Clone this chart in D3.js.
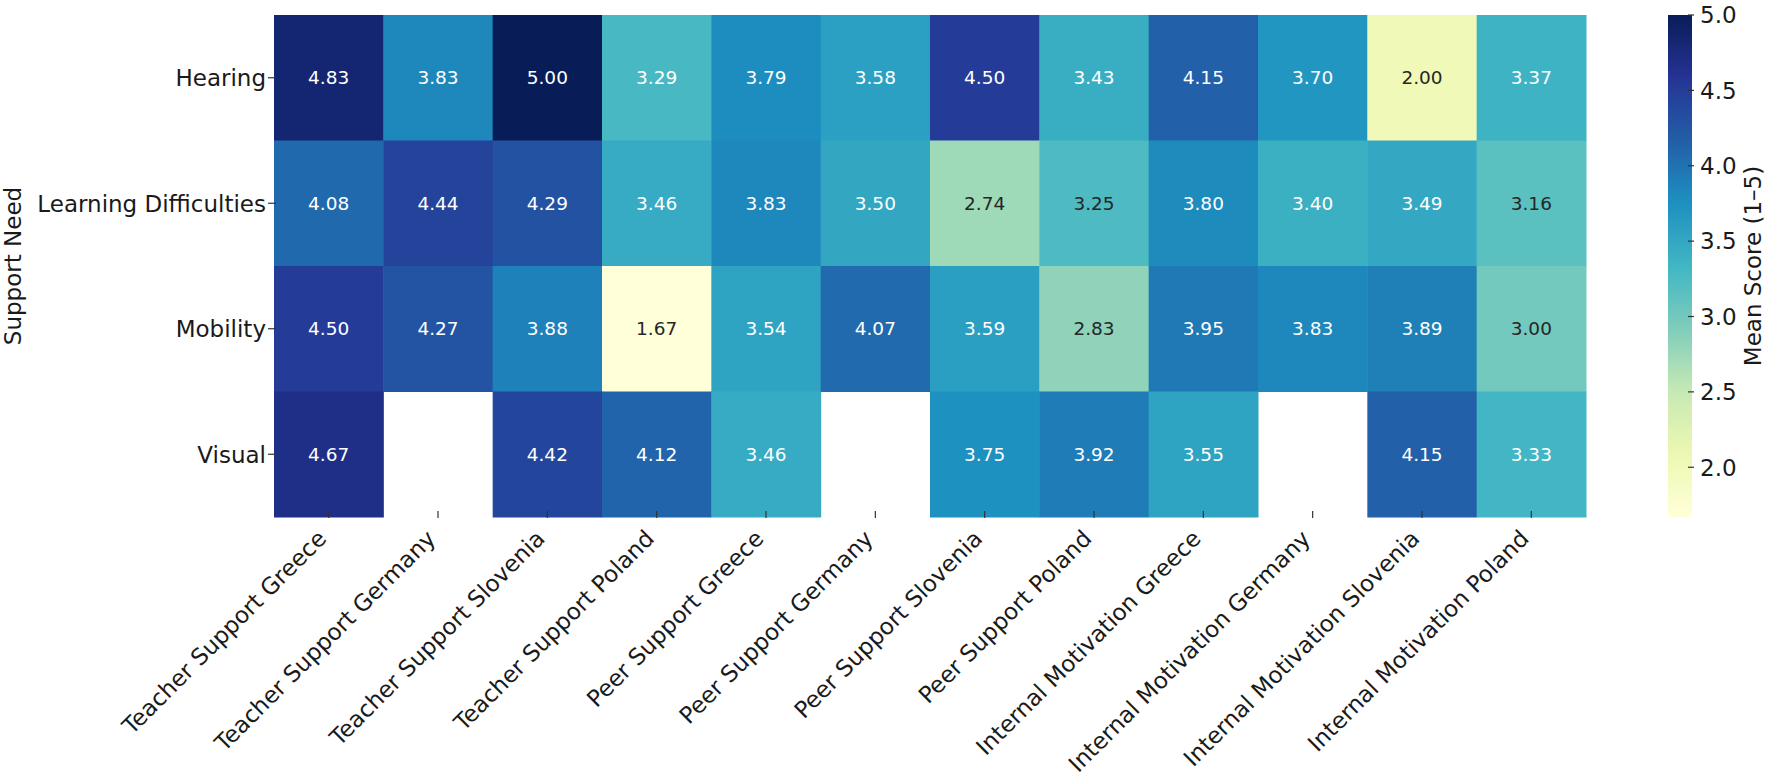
<!DOCTYPE html>
<html>
<head>
<meta charset="utf-8">
<script src="https://cdn.jsdelivr.net/npm/d3@7"></script>
<style>
  html, body { margin: 0; padding: 0; background: #fff; }
  svg text { font-family: "DejaVu Sans", sans-serif; }
</style>
</head>
<body>
<svg id="chart" width="1772" height="779"></svg>
<script>
var needs = ["Hearing", "Learning Difficulties", "Mobility", "Visual"];

var sources = [
  "Teacher Support Greece", "Teacher Support Germany", "Teacher Support Slovenia", "Teacher Support Poland",
  "Peer Support Greece", "Peer Support Germany", "Peer Support Slovenia", "Peer Support Poland",
  "Internal Motivation Greece", "Internal Motivation Germany", "Internal Motivation Slovenia", "Internal Motivation Poland"
];

// one list per support need, same order as sources (null = no data)
var hearing   = [4.83, 3.83, 5.00, 3.29, 3.79, 3.58, 4.50, 3.43, 4.15, 3.70, 2.00, 3.37];
var learning  = [4.08, 4.44, 4.29, 3.46, 3.83, 3.50, 2.74, 3.25, 3.80, 3.40, 3.49, 3.16];
var mobility  = [4.50, 4.27, 3.88, 1.67, 3.54, 4.07, 3.59, 2.83, 3.95, 3.83, 3.89, 3.00];
var visual    = [4.67, null, 4.42, 4.12, 3.46, null, 3.75, 3.92, 3.55, null, 4.15, 3.33];

var cbarTicks = [2.0, 2.5, 3.0, 3.5, 4.0, 4.5, 5.0];

var ylgnbu = ["#ffffd9", "#edf8b1", "#c7e9b4", "#7fcdbb", "#41b6c4", "#1d91c0", "#225ea8", "#253494", "#081d58"];

var rowsData = [hearing, learning, mobility, visual];

var plot = {left: 274, right: 1586, top: 15, bottom: 517};
var cbar = {left: 1668, right: 1692};

var svg = d3.select("#chart");

var cells = [];
for (var r = 0; r < needs.length; r++) {
  for (var c = 0; c < sources.length; c++) {
    if (rowsData[r][c] != null) {
      cells.push({need: needs[r], source: sources[c], value: rowsData[r][c]});
    }
  }
}

var vmin = d3.min(cells, function(d) { return d.value; });
var vmax = d3.max(cells, function(d) { return d.value; });

var color = d3.scaleLinear()
    .domain(ylgnbu.map(function(_, i) { return vmin + i * (vmax - vmin) / (ylgnbu.length - 1); }))
    .range(ylgnbu)
    .interpolate(d3.interpolateRgb);

var x = d3.scaleBand().domain(sources).range([plot.left, plot.right]);
var y = d3.scaleBand().domain(needs).range([plot.top, plot.bottom]);

// same rule seaborn uses to pick annotation colour
function luminance(col) {
  var rgb = d3.rgb(col);
  var ch = [rgb.r, rgb.g, rgb.b].map(function(v) {
    v = v / 255;
    return v <= 0.03928 ? v / 12.92 : Math.pow((v + 0.055) / 1.055, 2.4);
  });
  return 0.2126 * ch[0] + 0.7152 * ch[1] + 0.0722 * ch[2];
}

var g = svg.append("g");

g.selectAll("rect.cell")
    .data(cells)
  .enter().append("rect")
    .attr("class", "cell")
    .attr("x", function(d) { return x(d.source); })
    .attr("y", function(d) { return y(d.need); })
    .attr("width", x.bandwidth() + 0.5)
    .attr("height", y.bandwidth() + 0.5)
    .attr("fill", function(d) { return color(d.value); });

g.selectAll("text.annot")
    .data(cells)
  .enter().append("text")
    .attr("class", "annot")
    .attr("x", function(d) { return x(d.source) + x.bandwidth() / 2; })
    .attr("y", function(d) { return y(d.need) + y.bandwidth() / 2; })
    .attr("dy", "0.35em")
    .attr("text-anchor", "middle")
    .style("font-size", "18.5px")
    .attr("fill", function(d) { return luminance(color(d.value)) > 0.408 ? "#262626" : "#ffffff"; })
    .text(function(d) { return d.value.toFixed(2); });

// y axis
var yTicks = svg.append("g");
yTicks.selectAll("line")
    .data(needs)
  .enter().append("line")
    .attr("x1", plot.left - 6).attr("x2", plot.left + 2)
    .attr("y1", function(d) { return y(d) + y.bandwidth() / 2; })
    .attr("y2", function(d) { return y(d) + y.bandwidth() / 2; })
    .attr("stroke", "#333").attr("stroke-width", 1.2);
yTicks.selectAll("text")
    .data(needs)
  .enter().append("text")
    .attr("x", plot.left - 8)
    .attr("y", function(d) { return y(d) + y.bandwidth() / 2; })
    .attr("dy", "0.36em")
    .attr("text-anchor", "end")
    .style("font-size", "23px")
    .attr("fill", "#1a1a1a")
    .text(function(d) { return d; });

svg.append("text")
    .attr("transform", "translate(21," + (plot.top + plot.bottom) / 2 + ") rotate(-90)")
    .attr("text-anchor", "middle")
    .style("font-size", "23px")
    .attr("fill", "#1a1a1a")
    .text("Support Need");

// x axis
var xTicks = svg.append("g");
xTicks.selectAll("line")
    .data(sources)
  .enter().append("line")
    .attr("x1", function(d) { return x(d) + x.bandwidth() / 2; })
    .attr("x2", function(d) { return x(d) + x.bandwidth() / 2; })
    .attr("y1", plot.bottom - 6).attr("y2", plot.bottom + 1)
    .attr("stroke", "#333").attr("stroke-width", 1.2);
xTicks.selectAll("text")
    .data(sources)
  .enter().append("text")
    .attr("transform", function(d) {
      return "translate(" + (x(d) + x.bandwidth() / 2 - 1) + "," + (plot.bottom + 23) + ") rotate(-45)";
    })
    .attr("text-anchor", "end")
    .style("font-size", "23px")
    .attr("fill", "#1a1a1a")
    .text(function(d) { return d; });

// colorbar
var cy = d3.scaleLinear().domain([vmin, vmax]).range([plot.bottom, plot.top]);

var grad = svg.append("defs").append("linearGradient")
    .attr("id", "cbgrad")
    .attr("x1", 0).attr("y1", 1).attr("x2", 0).attr("y2", 0);
grad.selectAll("stop")
    .data(d3.range(0, 1.0001, 0.02))
  .enter().append("stop")
    .attr("offset", function(t) { return t; })
    .attr("stop-color", function(t) { return color(vmin + t * (vmax - vmin)); });

svg.append("rect")
    .attr("x", cbar.left).attr("y", plot.top)
    .attr("width", cbar.right - cbar.left)
    .attr("height", plot.bottom - plot.top)
    .attr("fill", "url(#cbgrad)");

var cbAxis = svg.append("g");
cbAxis.selectAll("line")
    .data(cbarTicks)
  .enter().append("line")
    .attr("x1", cbar.right - 4).attr("x2", cbar.right + 2)
    .attr("y1", function(d) { return cy(d); })
    .attr("y2", function(d) { return cy(d); })
    .attr("stroke", "#333").attr("stroke-width", 1.2);
cbAxis.selectAll("text")
    .data(cbarTicks)
  .enter().append("text")
    .attr("x", cbar.right + 8)
    .attr("y", function(d) { return cy(d); })
    .attr("dy", "0.36em")
    .style("font-size", "23px")
    .attr("fill", "#1a1a1a")
    .text(function(d) { return d.toFixed(1); });

svg.append("text")
    .attr("transform", "translate(1761," + (plot.top + plot.bottom) / 2 + ") rotate(-90)")
    .attr("text-anchor", "middle")
    .style("font-size", "23px")
    .attr("fill", "#1a1a1a")
    .text("Mean Score (1\u20135)");
</script>
</body>
</html>
